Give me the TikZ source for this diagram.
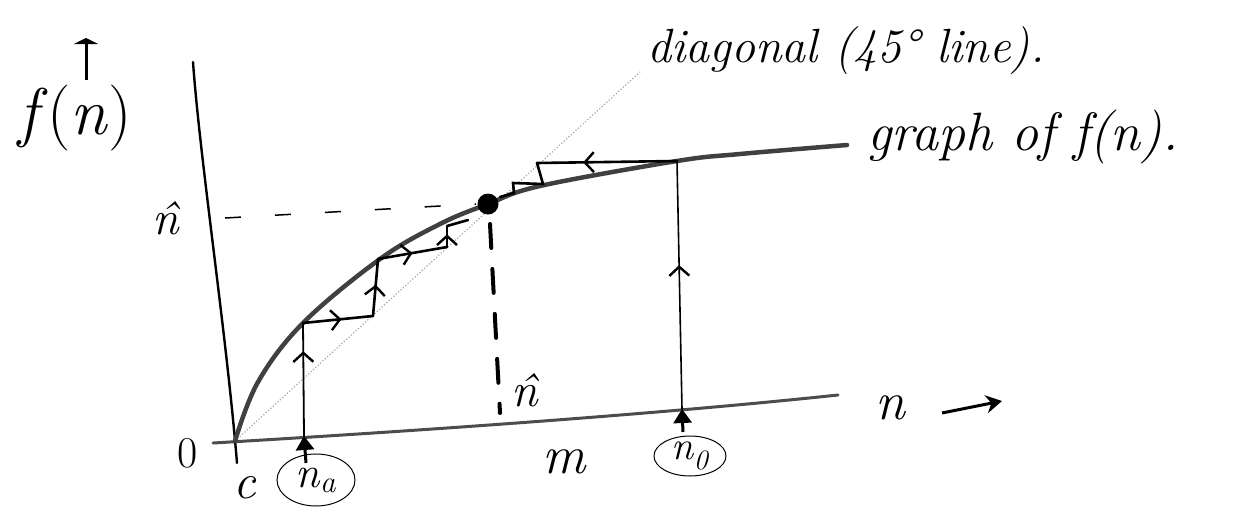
\documentclass[tikz,border=0pt]{standalone}
\usepackage{fontspec}
\usepackage{tikz}
\usetikzlibrary{arrows.meta,shapes.geometric,decorations.markings}

\begin{document}
\begin{tikzpicture}[
  x=1pt,
  y=-1pt,
  axis/.style={draw=black,line width=2.4pt,line cap=round},
  chalk/.style={draw=black!70,line width=3pt,line cap=round},
  graphf/.style={draw=black!75,line width=4.5pt,line cap=round},
  diag/.style={draw=black!35,line width=1.2pt,dotted},
  web/.style={draw=black,line width=2.6pt,line cap=round},
  midarr/.style={postaction={decorate},decoration={markings,mark=at position #1 with {\arrow{Straight Barb[length=9pt,width=20pt,line width=2.4pt]}}}},
  tickarr/.style={-{Triangle[length=14pt,width=18pt]},line width=3pt},
  lab/.style={inner sep=0pt,font=\fontsize{#1}{#1}\selectfont},
  hand/.style={inner sep=0pt,font=\fontsize{#1}{#1}\selectfont\itshape},
  ring/.style={draw,ellipse,line width=1pt,inner sep=0pt}
]
\useasboundingbox (0,0) rectangle (1237,509);
\coordinate (O) at (235,441);
\coordinate (ybot) at (237,463);
\coordinate (ytop) at (193,62);
\coordinate (xleft) at (213,443);
\coordinate (xright) at (838,395);
\coordinate (diagend) at (640,72);
\draw[axis] (ybot) .. controls (226,330) and (200,160) .. (ytop);
\draw[chalk] (xleft) .. controls (400,432) and (650,415) .. (xright);
\draw[diag] (O) -- (diagend);
\draw[graphf] plot[smooth,tension=0.6] coordinates {(235,441) (258,382) (303,323) (380,259) (440,224) (488,204) (540,186) (677,161) (740,154) (847,145)};
\coordinate (hl) at (225,218);
\coordinate (hr) at (476,204);
\draw[line width=1.5pt,dash pattern=on 16pt off 34pt] (hl) -- (hr);
\node[circle,fill,inner sep=0pt,minimum size=21pt] (eq) at (488,204) {};
\coordinate (vtop) at (490,224);
\coordinate (vbot) at (500,413);
\draw[line width=4pt,line cap=round,dash pattern=on 24pt off 21pt] (vtop) -- (vbot);
\coordinate (a0) at (304,436);
\coordinate (a1) at (303,323);
\coordinate (a2) at (373,316);
\coordinate (a3) at (378,259);
\coordinate (a4) at (447,247);
\coordinate (a5) at (447,226);
\coordinate (a6) at (468,220);
\draw[web,line width=1.8pt,midarr=0.75] (a0) -- (a1);
\draw[web,midarr=0.55] (a1) -- (a2);
\draw[web,midarr=0.55] (a2) -- (a3);
\draw[web,midarr=0.5] (a3) -- (a4);
\draw[web,midarr=0.6] (a4) -- (a5);
\draw[web] (a5) -- (a6);
\coordinate (b0) at (682,409);
\coordinate (b1) at (677,161);
\coordinate (b2) at (537,163);
\coordinate (b3) at (543,184);
\coordinate (b4) at (513,183);
\coordinate (b5) at (514,193);
\coordinate (b6) at (500,197);
\draw[web,line width=1.6pt,midarr=0.58] (b0) -- (b1);
\draw[web,midarr=0.67] (b1) -- (b2);
\draw[web] (b2) -- (b3) -- (b4) -- (b5) -- (b6);
\node[lab=66] (fn) at (75,118) {\textit{f}(\textit{n})};
\coordinate (fnlo) at (86,80);
\coordinate (fnhi) at (86,38);
\draw[-{Triangle[length=6pt,width=24pt]},line width=3pt] (fnlo) -- (fnhi);
\node[hand=48] (nhat) at (166,218) {\^{n}};
\node[hand=48] (nhatb) at (525,390) {\^{n}};
\node[lab=44] (zero) at (188,453) {0};
\node[hand=50] (cee) at (245,488) {c};
\node[hand=44,ring,minimum width=78pt,minimum height=52pt] (na) at (316,480) {n\textsubscript{a}};
\node[hand=40,ring,minimum width=72pt,minimum height=34pt] (nnull) at (690,456) {n\textsubscript{0}};
\coordinate (natop) at (306,463);
\coordinate (nntop) at (683,432);
\draw[tickarr] (natop) -- (a0);
\draw[tickarr] (nntop) -- (b0);
\node[hand=54] (mm) at (564,462) {m};
\node[hand=54] (nx) at (890,408) {n};
\coordinate (nxa) at (942,413);
\coordinate (nxb) at (1002,401);
\draw[line width=3pt,-{Stealth[length=16pt,width=18pt]}] (nxa) -- (nxb);
\node[hand=48,anchor=base west] (diaglab) at (647,62) {diagonal (45° line).};
\node[hand=54,anchor=base west] (graphlab) at (867,150) {graph of f(n).};
\end{tikzpicture}
\end{document}
